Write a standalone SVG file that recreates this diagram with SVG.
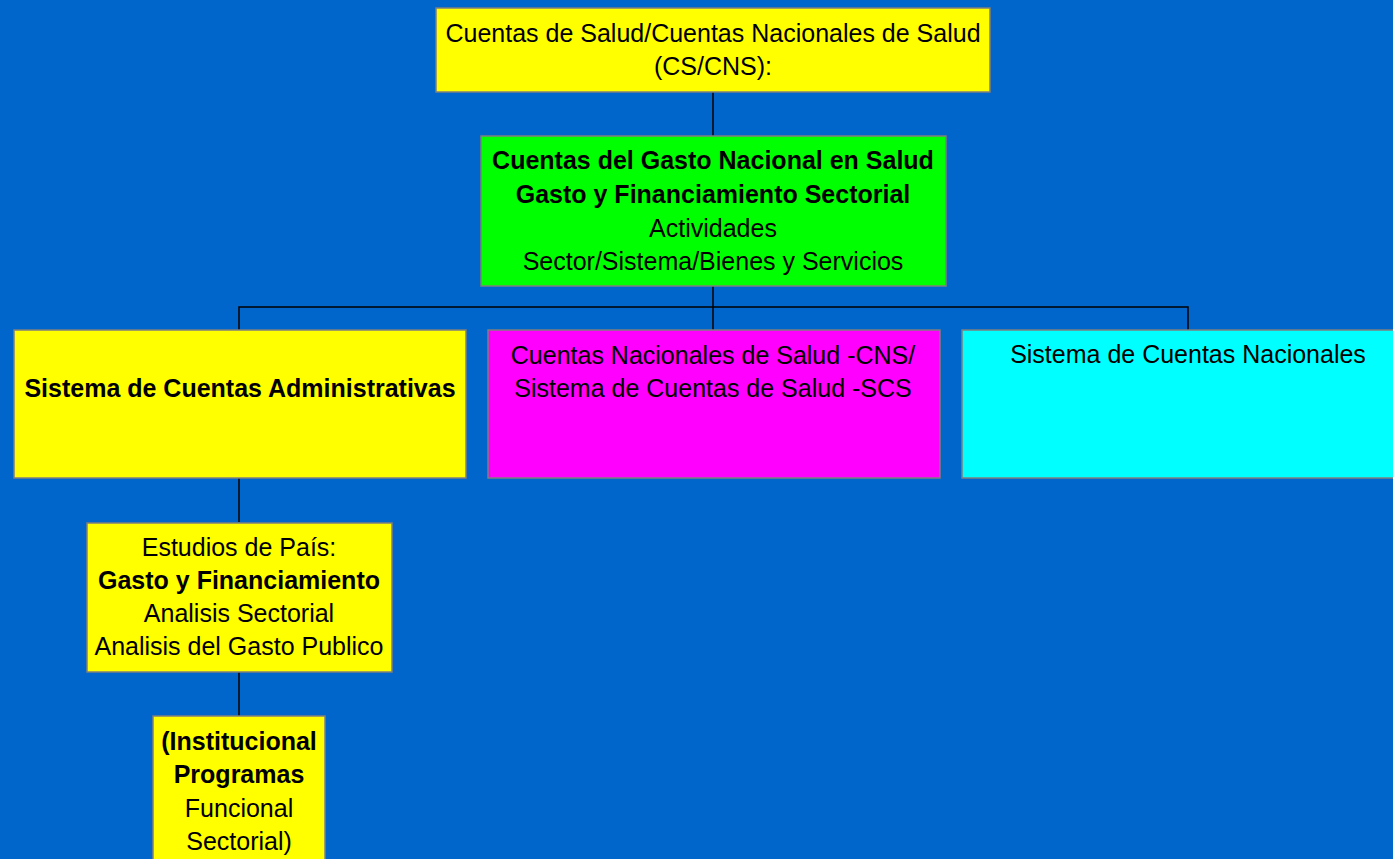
<svg xmlns="http://www.w3.org/2000/svg" width="1393" height="859" viewBox="0 0 1393 859">
<style>
.box{stroke:#7f7f7f;stroke-width:1.5}
.t{font-family:"Liberation Sans",Arial,sans-serif;font-size:25px;fill:#000;text-anchor:middle}
.b{font-weight:bold}
.c{fill:none;stroke:#000;stroke-width:1.5}
</style>
<rect x="0" y="0" width="1393" height="859" fill="#0066CC"/>
<g id="connectors">
<path class="c" d="M713,92V136"/>
<path class="c" d="M713,286V307M239,330V307H1188V330M713,307V330"/>
<path class="c" d="M239,478V522"/>
<path class="c" d="M239,672V716"/>
</g>
<g id="n1">
<rect class="box" x="436" y="8" width="554" height="84" fill="#FFFF00"/>
<text class="t" x="713" y="42">Cuentas de Salud/Cuentas Nacionales de Salud</text>
<text class="t" x="713" y="75">(CS/CNS):</text>
</g>
<g id="n2">
<rect class="box" x="481" y="136" width="465" height="150" fill="#00FF00"/>
<text class="t b" x="713" y="169">Cuentas del Gasto Nacional en Salud</text>
<text class="t b" x="713" y="203">Gasto y Financiamiento Sectorial</text>
<text class="t" x="713" y="237">Actividades</text>
<text class="t" x="713" y="270">Sector/Sistema/Bienes y Servicios</text>
</g>
<g id="n3">
<rect class="box" x="14" y="330" width="452" height="148" fill="#FFFF00"/>
<text class="t b" x="240" y="397">Sistema de Cuentas Administrativas</text>
</g>
<g id="n4">
<rect class="box" x="488" y="330" width="452" height="148" fill="#FF00FF"/>
<text class="t" x="713" y="364">Cuentas Nacionales de Salud -CNS/</text>
<text class="t" x="713" y="397">Sistema de Cuentas de Salud -SCS</text>
</g>
<g id="n5">
<rect class="box" x="962" y="330" width="452" height="148" fill="#00FFFF"/>
<text class="t" x="1188" y="363">Sistema de Cuentas Nacionales</text>
</g>
<g id="n6">
<rect class="box" x="87" y="523" width="305" height="149" fill="#FFFF00"/>
<text class="t" x="239" y="556">Estudios de País:</text>
<text class="t b" x="239" y="589">Gasto y Financiamiento</text>
<text class="t" x="239" y="622">Analisis Sectorial</text>
<text class="t" x="239" y="655">Analisis del Gasto Publico</text>
</g>
<g id="n7">
<rect class="box" x="153" y="716" width="172" height="170" fill="#FFFF00"/>
<text class="t b" x="239" y="750">(Institucional</text>
<text class="t b" x="239" y="783">Programas</text>
<text class="t" x="239" y="817">Funcional</text>
<text class="t" x="239" y="850">Sectorial)</text>
</g>
</svg>
